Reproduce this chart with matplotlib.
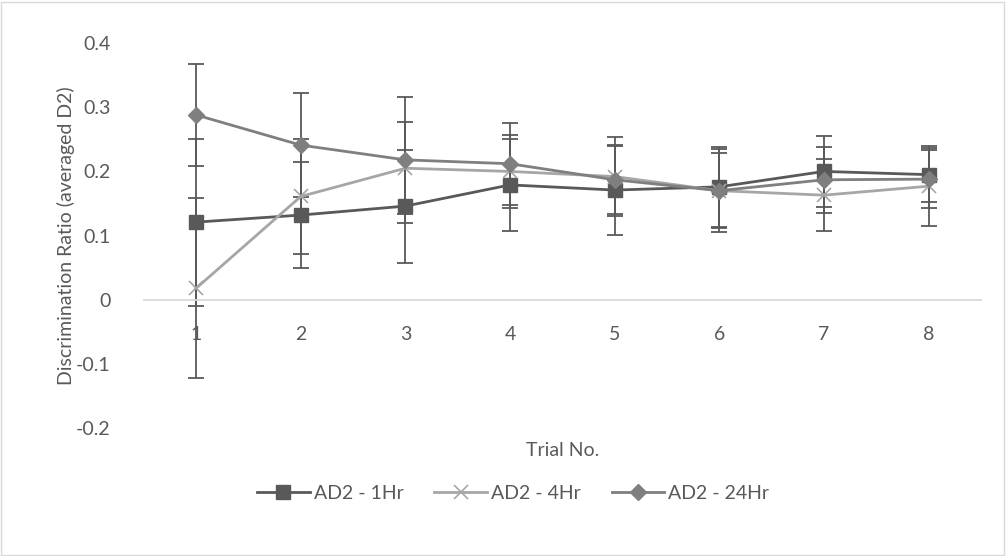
import numpy as np
import matplotlib
matplotlib.use('Agg')
import matplotlib.pyplot as plt
from matplotlib.patches import Rectangle

plt.rcParams['font.family'] = ['Lato', 'DejaVu Sans']

trials = [1, 2, 3, 4, 5, 6, 7, 8]
hr1 = [0.121, 0.132, 0.146, 0.179, 0.171, 0.176, 0.200, 0.195]
hr1_err = [0.130, 0.083, 0.088, 0.072, 0.070, 0.062, 0.055, 0.042]
hr4 = [0.018, 0.161, 0.205, 0.200, 0.192, 0.170, 0.163, 0.177]
hr4_err = [0.140, 0.090, 0.072, 0.057, 0.062, 0.065, 0.056, 0.062]
hr24 = [0.288, 0.241, 0.218, 0.212, 0.187, 0.170, 0.187, 0.188]
hr24_err = [0.079, 0.081, 0.098, 0.064, 0.053, 0.058, 0.051, 0.045]
yticks = [-0.2, -0.1, 0, 0.1, 0.2, 0.3, 0.4]
ytick_labels = ['-0.2', '-0.1', '0', '0.1', '0.2', '0.3', '0.4']

txt = '#595959'
fs = 14
fig = plt.figure(figsize=(10.06, 5.56), dpi=100)
ax = fig.add_axes([0.143, 0.230, 0.832, 0.6925])

series = [
    (hr1, hr1_err, 'AD2 - 1Hr', '#595959', 's', 10.5, None),
    (hr4, hr4_err, 'AD2 - 4Hr', '#A6A6A6', 'x', 10, 1.2),
    (hr24, hr24_err, 'AD2 - 24Hr', '#7F7F7F', 'D', 8.5, None),
]
# error bars first so markers sit on top
for vals, errs, lab, col, mk, ms, mew in series:
    ax.errorbar(trials, vals, yerr=errs, fmt='none', ecolor='#595959',
                elinewidth=1.3, capsize=6, capthick=1.3, zorder=2)
for vals, errs, lab, col, mk, ms, mew in series:
    kw = dict(markeredgewidth=mew) if mew else dict(markeredgecolor=col)
    ax.plot(trials, vals, color=col, lw=2, marker=mk, markersize=ms,
            markerfacecolor=col, label=lab, zorder=3, **kw)

ax.set_xlim(0.5, 8.5)
ax.set_ylim(-0.2, 0.4)
ax.set_xticks(trials)
ax.set_yticks(yticks)
ax.set_yticklabels(ytick_labels)
for s in ['top', 'right', 'left']:
    ax.spines[s].set_visible(False)
ax.spines['bottom'].set_position(('data', 0))
ax.spines['bottom'].set_color('#D9D9D9')
ax.spines['bottom'].set_linewidth(1.3)
ax.tick_params(axis='x', length=0, pad=19, labelsize=fs, labelcolor=txt)
ax.tick_params(axis='y', length=0, pad=24, labelsize=fs, labelcolor=txt)
ax.set_ylabel('Discrimination Ratio (averaged D2)', fontsize=fs, color=txt, labelpad=1)
fig.text(0.5597, 0.189, 'Trial No.', ha='center', va='center', fontsize=fs, color=txt)

ax.legend(loc='center', bbox_to_anchor=(0.51, 0.113), bbox_transform=fig.transFigure,
          ncol=3, frameon=False, fontsize=fs, labelcolor=txt, handlelength=2.7,
          handletextpad=0.2, columnspacing=1.6)

fig.patches.append(Rectangle((0.001, 0.002), 0.997, 0.995, transform=fig.transFigure,
                             fill=False, edgecolor='#D9D9D9', lw=1))
fig.savefig('out.png', dpi=100)
